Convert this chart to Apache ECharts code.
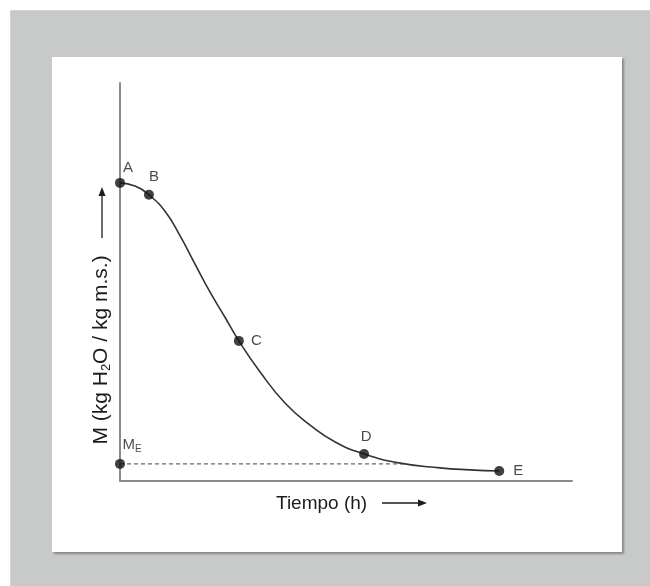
<!DOCTYPE html>
<html>
<head>
<meta charset="utf-8">
<script src="https://cdn.jsdelivr.net/npm/echarts@6/dist/echarts.min.js"></script>
<style>
  html, body { margin: 0; padding: 0; background: #ffffff; }
  #page { position: relative; width: 650px; height: 586px; overflow: hidden; background: #ffffff; }
  #backdrop { position: absolute; left: 10px; top: 10px; width: 640px; height: 576px; background: #c7cac8; border-top: 1px solid #d4d6d5; border-left: 1px solid #d4d6d5; }
  #sheet { position: absolute; left: 52px; top: 57px; width: 570px; height: 495px; background: #ffffff; box-shadow: 2px 2px 2px rgba(80,80,80,0.55); }
  #chart { position: absolute; left: 0; top: 0; width: 650px; height: 586px; }
</style>
</head>
<body>
<div id="page">
  <div id="backdrop"></div>
  <div id="sheet"></div>
  <div id="chart"></div>
</div>
<script>
// Drying curve: moisture content M versus time
const curveTime = [0, 0.33, 0.64, 1.0, 1.33, 1.66, 1.99, 2.32, 2.63, 3.1, 3.65, 4.2, 4.76, 5.4, 6.2, 7.08, 7.74, 8.39];
const curveMoisture = [0.749, 0.741, 0.719, 0.677, 0.616, 0.545, 0.475, 0.412, 0.352, 0.274, 0.196, 0.141, 0.098, 0.068, 0.045, 0.033, 0.028, 0.025];

const pointNames = ['A', 'B', 'C', 'D', 'E'];
const pointTime = [0, 0.64, 2.63, 5.4, 8.39];
const pointMoisture = [0.749, 0.719, 0.352, 0.068, 0.025];

const equilibriumMoisture = 0.043;   // M_E
const equilibriumLineEnd = 6.3;

const xAxisTitle = 'Tiempo (h)';
const yAxisTitle = 'M (kg H{sub|2}O / kg m.s.)';

const labelPlacement = {
  A: { position: 'top', offset: [8, 2] },
  B: { position: 'top', offset: [5, 0] },
  C: { position: 'right', offset: [2, 0] },
  D: { position: 'top', offset: [2, 0] },
  E: { position: 'right', offset: [4, 0] }
};

const chart = echarts.init(document.getElementById('chart'), null, { renderer: 'canvas' });
const fontFamily = 'Liberation Sans, Arial, Helvetica, sans-serif';
const ink = '#1c1c1c';

const option = {
  backgroundColor: 'transparent',
  animation: false,
  grid: { left: 120, right: 78, top: 83, bottom: 105 },
  xAxis: {
    type: 'value', min: 0, max: 10,
    axisLine: { show: true, onZero: false, lineStyle: { color: '#8c8c8c', width: 2 } },
    axisTick: { show: false }, axisLabel: { show: false }, splitLine: { show: false }
  },
  yAxis: {
    type: 'value', min: 0, max: 1,
    axisLine: { show: true, onZero: false, lineStyle: { color: '#8c8c8c', width: 2 } },
    axisTick: { show: false }, axisLabel: { show: false }, splitLine: { show: false }
  },
  series: [
    {
      name: 'curve',
      type: 'line',
      smooth: 0.5,
      symbol: 'none',
      data: curveTime.map((t, i) => [t, curveMoisture[i]]),
      lineStyle: { color: '#333333', width: 1.6 },
      z: 3
    },
    {
      name: 'equilibrium',
      type: 'line',
      symbol: 'none',
      data: [[0, equilibriumMoisture], [equilibriumLineEnd, equilibriumMoisture]],
      lineStyle: { color: '#6a6a6a', width: 1.3, type: [4, 3] },
      z: 2
    },
    {
      name: 'points',
      type: 'scatter',
      symbolSize: 10,
      itemStyle: { color: '#111111' },
      data: pointNames.map((n, i) => ({
        name: n,
        value: [pointTime[i], pointMoisture[i]],
        label: Object.assign({ show: true, formatter: '{b}' }, labelPlacement[n])
      })),
      label: { color: ink, fontSize: 15, fontFamily: fontFamily },
      z: 5
    },
    {
      name: 'ME',
      type: 'scatter',
      symbolSize: 10,
      itemStyle: { color: '#111111' },
      data: [{ name: 'ME', value: [0, equilibriumMoisture] }],
      label: {
        show: true,
        position: 'top',
        offset: [12, 0],
        formatter: 'M{sub|E}',
        color: ink, fontSize: 15, fontFamily: fontFamily,
        rich: { sub: { fontSize: 10, color: ink, fontFamily: fontFamily, verticalAlign: 'bottom', padding: [8, 0, 0, 0] } }
      },
      z: 5
    }
  ],
  graphic: [
    {
      type: 'text', left: 276, top: 494,
      style: { text: xAxisTitle, fill: ink, font: '19px ' + fontFamily }
    },
    {
      type: 'line', shape: { x1: 382, y1: 503, x2: 420, y2: 503 },
      style: { stroke: ink, lineWidth: 1.3 }
    },
    {
      type: 'polygon', shape: { points: [[427, 503], [418, 499.5], [418, 506.5]] },
      style: { fill: ink }
    },
    {
      type: 'text', x: 101, y: 350, rotation: Math.PI / 2,
      style: {
        text: yAxisTitle, fill: ink, font: '21px ' + fontFamily,
        align: 'center', verticalAlign: 'middle',
        rich: { sub: { fontSize: 13, fill: ink, fontFamily: fontFamily, verticalAlign: 'bottom', padding: [10, 0, 0, 0] } }
      }
    },
    {
      type: 'line', shape: { x1: 102, y1: 238, x2: 102, y2: 195 },
      style: { stroke: ink, lineWidth: 1.3 }
    },
    {
      type: 'polygon', shape: { points: [[102, 187], [98.5, 196], [105.5, 196]] },
      style: { fill: ink }
    }
  ]
};
chart.setOption(option);
</script>
</body>
</html>
